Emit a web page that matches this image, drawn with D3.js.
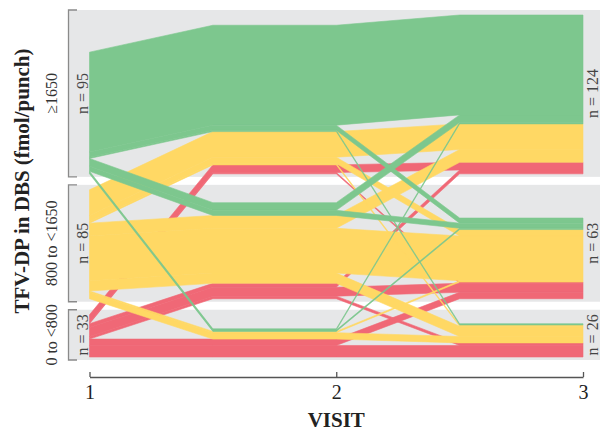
<!DOCTYPE html>
<html>
<head>
<meta charset="utf-8">
<script src="https://cdn.jsdelivr.net/npm/d3@7"></script>
<style>
  body { margin: 0; background: #fff; }
  text { font-family: "Liberation Serif", "DejaVu Serif", serif; }
</style>
</head>
<body>
<div id="chart"></div>
<script>
// visits on the x axis
const visits = ["1", "2", "3"];

// TFV-DP levels, top to bottom (H = >=1650, M = 800 to <1650, L = 0 to <800)
const levelCodes = ["H", "M", "L"];
const levelLabels = ["≥1650", "800 to <1650", "0 to <800"];
const levelColors = ["#7dc78e", "#ffd864", "#f06876"];

// one entry per alluvium (participants following the same path)
const visit1 = ["H", "H", "H", "H", "H", "H", "H", "M", "M", "M", "M", "M", "M", "M", "M", "L", "L", "L", "L", "L", "L", "L"];
const visit2 = ["H", "H", "H", "M", "M", "L", "L", "H", "H", "H", "M", "M", "M", "L", "L", "H", "H", "M", "M", "M", "L", "L"];
const visit3 = ["H", "M", "L", "H", "M", "H", "M", "H", "M", "L", "H", "M", "L", "M", "L", "H", "M", "H", "M", "L", "M", "L"];
const counts = [78, 4, 1, 6, 4, 1, 1, 20, 5, 1, 10, 35, 8, 1, 5, 6, 1, 3, 7, 2, 5, 9];

const width = 600;
const height = 433;

const svg = d3.select("#chart").append("svg")
    .attr("width", width)
    .attr("height", height);

const x = d3.scalePoint().domain(visits).range([89.5, 583]);
const color = d3.scaleOrdinal().domain(levelCodes).range(levelColors);
const levelIndex = c => levelCodes.indexOf(c);

const alluvia = counts.map((n, i) => ({ id: i, n: n, levels: [visit1[i], visit2[i], visit3[i]] }));

// participants per level at each visit
const totals = visits.map((v, a) => d3.rollup(alluvia, g => d3.sum(g, d => d.n), d => d.levels[a]));
const bandMax = levelCodes.map(c => d3.max(totals, t => t.get(c) || 0));

// bands: one grey strip per level, as tall as its largest visit
const plotTop = 10, plotBottom = 360, gap = 8, padTop = 5, padBottom = 3;
const k = (plotBottom - plotTop - 2 * gap - 3 * (padTop + padBottom)) / d3.sum(bandMax);
const unit = d3.scaleLinear().domain([0, 1]).range([0, k]);

const bands = [];
let yCursor = plotTop;
levelCodes.forEach((c, j) => {
    const h = unit(bandMax[j]) + padTop + padBottom;
    bands.push({ code: c, label: levelLabels[j], top: yCursor, bottom: yCursor + h });
    yCursor += h + gap;
});
const bandOf = c => bands[levelIndex(c)];

// stacking order inside a level at each visit
const sortKeys = [
    [0, 1, 2],
    [1, 0, 2],
    [2, 0, 1]
];

alluvia.forEach(d => d.pos = []);
visits.forEach((v, a) => {
    levelCodes.forEach(c => {
        const group = alluvia.filter(d => d.levels[a] === c);
        const keys = sortKeys[a];
        group.sort((p, q) => {
            for (const kk of keys) {
                const diff = levelIndex(p.levels[kk]) - levelIndex(q.levels[kk]);
                if (diff !== 0) return diff;
            }
            return 0;
        });
        const total = d3.sum(group, d => d.n);
        let y = bandOf(c).bottom - padBottom - unit(total);
        group.forEach(d => {
            d.pos[a] = { y0: y, y1: y + unit(d.n) };
            y += unit(d.n);
        });
    });
});

// grey bands
svg.append("g")
    .selectAll("rect")
    .data(bands)
    .join("rect")
    .attr("x", 69)
    .attr("y", d => d.top)
    .attr("width", width - 69)
    .attr("height", d => d.bottom - d.top)
    .attr("fill", "#e6e7e8");

// alluvia: slope over the first half of each interval, then flat
function alluviumPoints(d) {
    const top = [], bottom = [];
    visits.forEach((v, a) => {
        if (a > 0) {
            const mid = (x(visits[a - 1]) + x(v)) / 2;
            top.push([mid, d.pos[a].y0]);
            bottom.push([mid, d.pos[a].y1]);
        }
        top.push([x(v), d.pos[a].y0]);
        bottom.push([x(v), d.pos[a].y1]);
    });
    return top.concat(bottom.reverse());
}

const drawOrder = alluvia.slice().sort((p, q) =>
    levelIndex(q.levels[0]) - levelIndex(p.levels[0]) || q.n - p.n);

svg.append("g")
    .selectAll("path")
    .data(drawOrder)
    .join("path")
    .attr("d", d => d3.line()(alluviumPoints(d)) + "Z")
    .attr("fill", d => color(d.levels[0]))
    .attr("stroke", d => color(d.levels[0]))
    .attr("stroke-width", 0.6)
    .attr("stroke-linejoin", "round");

// left brackets
svg.append("g")
    .selectAll("path")
    .data(bands)
    .join("path")
    .attr("d", d => `M77,${d.top}H68.5V${d.bottom}H77`)
    .attr("fill", "none")
    .attr("stroke", "#8a8a8a")
    .attr("stroke-width", 1.3);

// level labels
svg.append("g")
    .selectAll("text")
    .data(bands)
    .join("text")
    .attr("transform", d => `translate(51,${(d.top + d.bottom) / 2}) rotate(-90)`)
    .attr("text-anchor", "middle")
    .attr("dy", "0.35em")
    .attr("font-size", "16px")
    .attr("fill", "#333")
    .text(d => d.label);

// n labels at first and last visit
const nLabels = [
    { a: 0, x: 82 },
    { a: 2, x: 592 }
];
nLabels.forEach(s => {
    svg.append("g")
        .selectAll("text")
        .data(bands)
        .join("text")
        .attr("transform", d => `translate(${s.x},${(d.top + d.bottom) / 2}) rotate(-90)`)
        .attr("text-anchor", "middle")
        .attr("dy", "0.35em")
        .attr("font-size", "16px")
        .attr("fill", "#444")
        .text(d => `n = ${totals[s.a].get(d.code) || 0}`);
});

// x axis
const xAxis = d3.axisBottom(x).tickSize(-5).tickSizeOuter(0).tickPadding(8);
svg.append("g")
    .attr("transform", "translate(0,377)")
    .call(xAxis)
    .call(g => g.select(".domain").attr("stroke", "#555").attr("stroke-width", 1.3))
    .call(g => g.selectAll(".tick line").attr("stroke", "#555").attr("stroke-width", 1.3))
    .call(g => g.selectAll(".tick text")
        .attr("font-family", "Liberation Serif, DejaVu Serif, serif")
        .attr("font-size", "20px")
        .attr("fill", "#222"));

// axis titles
svg.append("text")
    .attr("x", x("2"))
    .attr("y", 427)
    .attr("text-anchor", "middle")
    .attr("font-size", "21px")
    .attr("font-weight", "bold")
    .attr("fill", "#222")
    .text("VISIT");

svg.append("text")
    .attr("transform", "translate(29,181) rotate(-90)")
    .attr("text-anchor", "middle")
    .attr("font-size", "21px")
    .attr("font-weight", "bold")
    .attr("fill", "#222")
    .text("TFV-DP in DBS (fmol/punch)");
</script>
</body>
</html>
